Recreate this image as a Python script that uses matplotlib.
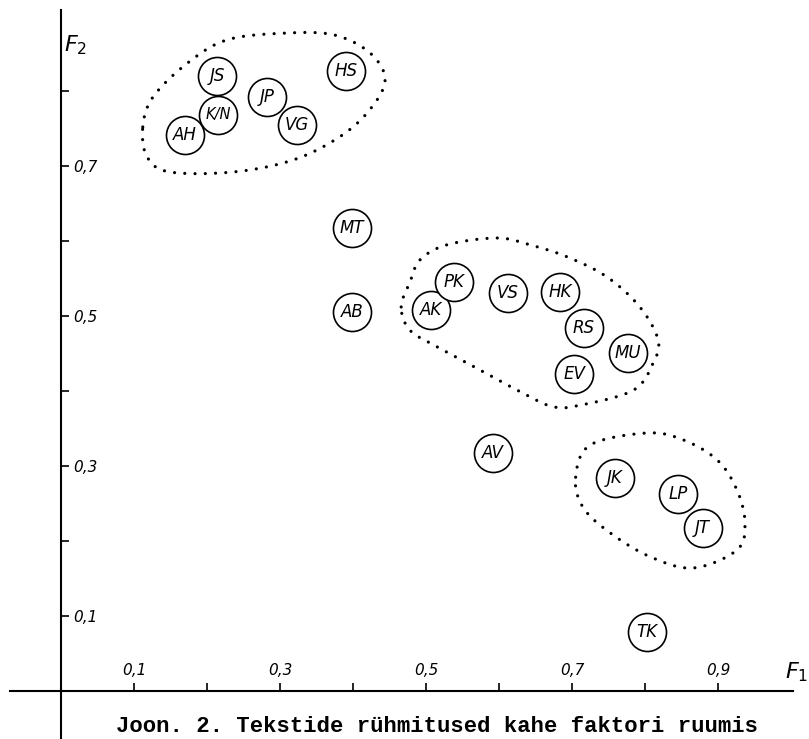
import numpy as np
import matplotlib.pyplot as plt

# Text codes and their loadings on the two factors
labels = ['AH', 'JS', 'K/N', 'JP', 'VG', 'HS', 'MT', 'AB', 'AK', 'PK',
          'VS', 'HK', 'RS', 'MU', 'EV', 'AV', 'JK', 'LP', 'JT', 'TK']
f1 = [0.170, 0.214, 0.215, 0.282, 0.323, 0.390, 0.399, 0.399, 0.507, 0.538,
      0.612, 0.684, 0.716, 0.777, 0.703, 0.592, 0.759, 0.845, 0.879, 0.803]
f2 = [0.741, 0.820, 0.768, 0.792, 0.755, 0.827, 0.617, 0.505, 0.508, 0.545,
      0.531, 0.532, 0.484, 0.451, 0.423, 0.317, 0.284, 0.263, 0.217, 0.079]

# Dotted outlines around the three groups (F1, F2)
group1_f1 = [0.112, 0.126, 0.173, 0.227, 0.304, 0.373, 0.423, 0.444, 0.423, 0.382, 0.318, 0.236, 0.149, 0.118]
group1_f2 = [0.752, 0.792, 0.837, 0.868, 0.877, 0.875, 0.851, 0.815, 0.775, 0.739, 0.708, 0.692, 0.692, 0.712]
group2_f1 = [0.466, 0.478, 0.492, 0.529, 0.597, 0.642, 0.693, 0.748, 0.793, 0.818, 0.811, 0.784, 0.711, 0.674, 0.633, 0.574, 0.515, 0.478]
group2_f2 = [0.512, 0.545, 0.575, 0.595, 0.604, 0.595, 0.579, 0.552, 0.512, 0.468, 0.437, 0.401, 0.381, 0.379, 0.397, 0.428, 0.459, 0.481]
group3_f1 = [0.705, 0.725, 0.803, 0.852, 0.899, 0.926, 0.937, 0.926, 0.866, 0.807, 0.752, 0.715]
group3_f2 = [0.285, 0.328, 0.344, 0.335, 0.308, 0.268, 0.224, 0.188, 0.164, 0.179, 0.211, 0.245]

# Ticks: only odd tenths carry a label
x_ticks = [0.1, 0.2, 0.3, 0.4, 0.5, 0.6, 0.7, 0.8, 0.9]
x_tick_labels = ['0,1', '', '0,3', '', '0,5', '', '0,7', '', '0,9']
y_ticks = [0.1, 0.2, 0.3, 0.4, 0.5, 0.6, 0.7, 0.8]
y_tick_labels = ['0,1', '', '0,3', '', '0,5', '', '0,7', '']

caption = 'Joon. 2. Tekstide rühmitused kahe faktori ruumis'


def smooth_closed(xs, ys, n=25):
    """Closed Catmull-Rom curve through the given points."""
    p = np.column_stack([xs, ys])
    m = len(p)
    out = []
    t = np.linspace(0, 1, n, endpoint=False)[:, None]
    for i in range(m):
        p0, p1, p2, p3 = p[i - 1], p[i], p[(i + 1) % m], p[(i + 2) % m]
        seg = 0.5 * ((2 * p1) + (-p0 + p2) * t
                     + (2 * p0 - 5 * p1 + 4 * p2 - p3) * t ** 2
                     + (-p0 + 3 * p1 - 3 * p2 + p3) * t ** 3)
        out.append(seg)
    out = np.vstack(out + [p[0:1]])
    return out[:, 0], out[:, 1]


fig = plt.figure(figsize=(8.09, 7.39), dpi=100)
ax = fig.add_axes([0, 0, 1, 1])
ax.set_xlim(-0.0836, 1.0247)
ax.set_ylim(-0.064, 0.9213)
ax.patch.set_visible(False)

# Axes crossing at the origin
ax.spines['left'].set_visible(False)
ax.spines['bottom'].set_visible(False)
ax.spines['top'].set_position(('data', 0))
ax.spines['right'].set_position(('data', 0))
ax.spines['top'].set_bounds(-0.07, 1.003)
ax.spines['right'].set_bounds(-0.064, 0.908)
for s in ('top', 'right'):
    ax.spines[s].set_linewidth(1.5)
ax.xaxis.set_ticks_position('top')
ax.yaxis.set_ticks_position('right')
ax.set_xticks(x_ticks, labels=x_tick_labels, fontstyle='italic')
ax.set_yticks(y_ticks, labels=y_tick_labels, fontstyle='italic')
ax.tick_params(direction='out', length=6, width=1.2, labelsize=11, pad=3)

# Group outlines
for gx, gy in [(group1_f1, group1_f2), (group2_f1, group2_f2), (group3_f1, group3_f2)]:
    sx, sy = smooth_closed(gx, gy)
    ax.plot(sx, sy, color='black', linestyle=(0, (0.01, 3.2)), linewidth=2.3,
            dash_capstyle='round', zorder=2)

# Circled text codes
ax.scatter(f1, f2, s=750, facecolors='white', edgecolors='black', linewidths=1.2, zorder=3)
for lab, x, y in zip(labels, f1, f2):
    ax.text(x, y, lab, ha='center', va='center', fontsize=12 if len(lab) < 3 else 10.5,
            fontstyle='italic', zorder=4)

# Axis names
ax.text(1.008, 0.025, r'$F_1$', ha='center', va='center', fontsize=16)
ax.text(0.0205, 0.861, r'$F_2$', ha='center', va='center', fontsize=16)

fig.text(437 / 809, 7 / 739, caption, ha='center', va='baseline',
         family='Liberation Mono', weight='bold', fontsize=16)

fig.savefig('out.png', dpi=100)
